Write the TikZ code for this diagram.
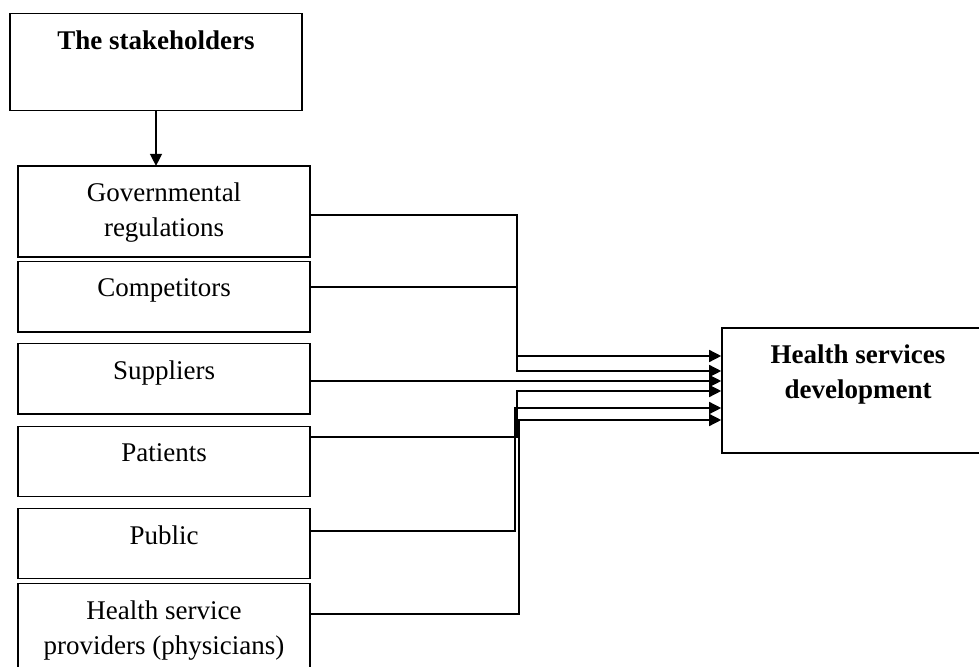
\documentclass[tikz,border=0pt]{standalone}
\usepackage{fontspec}
\setmainfont{Liberation Serif}
\usetikzlibrary{arrows.meta}
\newcommand{\boxfont}{\fontsize{13.5}{17.5}\selectfont}
\tikzset{
	sbox/.style = {draw, line width=0.8pt, minimum width=146pt,
		minimum height=#1, inner sep=0pt, outer sep=0pt},
	sbox/.default = 35pt,
	txt/.style = {anchor=north, yshift=-8.3pt, inner sep=0pt, align=center},
	bold/.style = {font=\boxfont\bfseries},
	flow/.style = {line width=0.7pt, -{Triangle[length=6pt,width=6pt]}}
}

\begin{document}
\begin{tikzpicture}[x=0.5pt, y=-0.5pt, font=\boxfont]
\useasboundingbox (0,0) rectangle (979,667);
\clip (0,0) rectangle (979,667);

\node[sbox=48.5pt, label={[txt, bold]north:The stakeholders}] (sh) at (156,62) {};

\node[sbox=45.7pt, label={[txt]north:{Governmental\\regulations}}] (gov) at (164,211.6) {};
\node[sbox=35.1pt, label={[txt]north:Competitors}] (comp) at (164,296.7) {};
\node[sbox=35.1pt, label={[txt]north:Suppliers}] (supp) at (164,378.8) {};
\node[sbox=35pt, label={[txt]north:Patients}] (pat) at (164,461.5) {};
\node[sbox=35pt, label={[txt]north:Public}] (pub) at (164,543.4) {};
\node[sbox=53.2pt, label={[txt]north:{Health service\\providers (physicians)}}] (hsp) at (164,636.8) {};

\node[draw, line width=0.8pt, minimum width=136pt, minimum height=62.5pt, inner sep=0pt,
	label={[txt, bold]north:{Health services\\development}}] (hsd) at (858,390.8) {};

\draw[flow] (sh.south) -- (sh.south |- gov.north);

\draw[flow] (gov.east |- 0,215) -| (517,356) -- (hsd.west |- 0,356);
\draw[flow] (comp.east |- 0,287) -| (517,371) -- (hsd.west |- 0,371);
\draw[flow] (supp.east |- 0,381) -- (hsd.west |- 0,381);
\draw[flow] (pat.east |- 0,437) -| (517,391) -- (hsd.west |- 0,391);
\draw[flow] (pub.east |- 0,531) -| (515,408) -- (hsd.west |- 0,408);
\draw[flow] (hsp.east |- 0,614) -| (519,420) -- (hsd.west |- 0,420);
\end{tikzpicture}
\end{document}
